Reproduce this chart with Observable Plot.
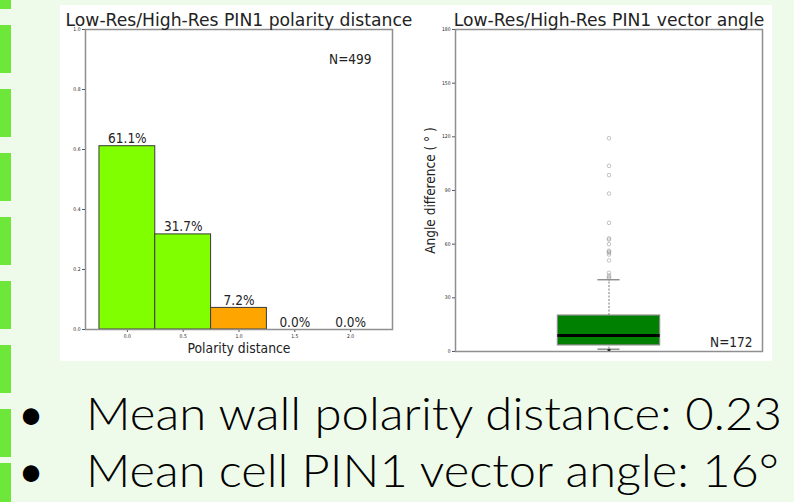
<!DOCTYPE html>
<html>
<head>
<meta charset="utf-8">
<script src="https://cdn.jsdelivr.net/npm/d3@7"></script>
<script src="https://cdn.jsdelivr.net/npm/@observablehq/plot@0.6"></script>
<style>
  html, body { margin: 0; padding: 0; }
  body { width: 794px; height: 502px; position: relative; overflow: hidden; background: #effbea; }
  #bar { position: absolute; left: 0; top: 0; width: 11px; height: 502px;
         background: repeating-linear-gradient(to bottom, #6ee73b 0 48px, transparent 48px 64px);
         background-position: 0 -39px; }
  #panel { position: absolute; left: 60px; top: 5px; width: 712px; height: 356px; background: #ffffff; }
  .chart { position: absolute; top: 5px; }
  .chart svg { overflow: visible; }
  #left { left: 60px; }
  #right { left: 420px; }
  #bullets { position: absolute; left: 0; top: 362px; }
</style>
</head>
<body>
<div id="bar"></div>
<div id="panel"></div>
<div id="left" class="chart"></div>
<div id="right" class="chart"></div>
<div id="bullets"></div>
<script>
// ---- Data: polarity distance histogram ----
const distBins = [0.0, 0.5, 1.0, 1.5, 2.0];
const distFractions = [0.611, 0.317, 0.072, 0.0, 0.0];
const distLabels = ["61.1%", "31.7%", "7.2%", "0.0%", "0.0%"];
const distGroups = ["near", "near", "far", "near", "near"];
const distTicksX = [0.0, 0.5, 1.0, 1.5, 2.0];
const distTicksY = [0.0, 0.2, 0.4, 0.6, 0.8, 1.0];
const distN = "N=499";

// ---- Data: vector angle box plot ----
const angleStatNames = ["whiskerLow", "q1", "median", "q3", "whiskerHigh"];
const angleStatValues = [1.3, 3.4, 9.0, 20.1, 40.1];
const angleOutliers = [119.2, 103.8, 98.6, 88.3, 71.9, 63.2, 62.6, 60.0, 56.3, 55.8, 55.2, 54.2, 50.9, 44.0, 42.5, 41.5, 40.7];
const angleLowMarks = [0.5];
const angleTicksY = [0, 30, 60, 90, 120, 150, 180];
const angleN = "N=172";

// ---- Bullet text ----
const bulletLines = ["Mean wall polarity distance: 0.23", "Mean cell PIN1 vector angle: 16°"];

const stat = Object.fromEntries(angleStatNames.map((k, i) => [k, angleStatValues[i]]));
const FONT = "DejaVu Sans Condensed, DejaVu Sans, sans-serif";
const TITLE_FONT = "DejaVu Sans, sans-serif";
const FRAME = "#8f8f8f";

// Left chart
const distData = distBins.map((b, i) => ({bin: b, frac: distFractions[i], label: distLabels[i], group: distGroups[i]}));
const halfW = 0.25;
const left = Plot.plot({
  width: 360, height: 356,
  marginLeft: 25, marginTop: 24, marginRight: 28, marginBottom: 32,
  style: {background: "transparent", fontFamily: FONT, color: "#222", overflow: "visible"},
  x: {domain: [-0.375, 2.375]},
  y: {domain: [0, 1]},
  color: {domain: ["near", "far"], range: ["#7fff00", "#ffa500"]},
  marks: [
    Plot.rect(distData, {x1: d => d.bin - halfW, x2: d => d.bin + halfW, y1: 0, y2: "frac", fill: "group", stroke: "#3a3a3a", strokeWidth: 1}),
    Plot.text(distData, {x: "bin", y: "frac", text: "label", dy: -3, lineAnchor: "bottom", fontSize: 13.5, fill: "#222"}),
    Plot.axisX({ticks: distTicksX, tickFormat: d3.format(".1f"), tickSize: 3, tickPadding: 2, fontSize: 5, label: null, stroke: "#555"}),
    Plot.axisY({ticks: distTicksY, tickFormat: d3.format(".1f"), tickSize: 3, tickPadding: 2, fontSize: 5, label: null, stroke: "#555"}),
    Plot.frame({stroke: FRAME, strokeWidth: 1.5}),
    Plot.text(["Low-Res/High-Res PIN1 polarity distance"], {frameAnchor: "top", lineAnchor: "bottom", dy: -4, fontSize: 17.2, fontFamily: TITLE_FONT, fill: "#222"}),
    Plot.text([distN], {frameAnchor: "top-right", textAnchor: "end", lineAnchor: "bottom", dx: -21, dy: 34, fontSize: 13.5, fill: "#222"}),
    Plot.text(["Polarity distance"], {frameAnchor: "bottom", lineAnchor: "bottom", dy: 23, fontSize: 13.8, fill: "#222"})
  ]
});
document.getElementById("left").appendChild(left);

// Right chart
const boxHalf = 0.1665, capHalf = 0.036, cx = 0.5;
const right = Plot.plot({
  width: 352, height: 356,
  marginLeft: 35, marginTop: 24, marginRight: 10, marginBottom: 10,
  style: {background: "transparent", fontFamily: FONT, color: "#222", overflow: "visible"},
  x: {domain: [0, 1], axis: null},
  y: {domain: [0, 180]},
  marks: [
    Plot.ruleX([[stat.q3, stat.whiskerHigh], [stat.whiskerLow, stat.q1]], {x: () => cx, y1: d => d[0], y2: d => d[1], stroke: "#777", strokeWidth: 1, strokeDasharray: "2,1.5"}),
    Plot.ruleY([stat.whiskerLow, stat.whiskerHigh], {y: d => d, x1: () => cx - capHalf, x2: () => cx + capHalf, stroke: "#777", strokeWidth: 1.2}),
    Plot.rect([stat], {x1: () => cx - boxHalf, x2: () => cx + boxHalf, y1: "q1", y2: "q3", fill: "#008000", stroke: "#8c8c8c", strokeWidth: 1.2}),
    Plot.ruleY([stat.median], {y: d => d, x1: () => cx - boxHalf, x2: () => cx + boxHalf, stroke: "#000", strokeWidth: 3}),
    Plot.dot(angleOutliers, {x: () => cx, y: d => d, r: 1.8, stroke: "#999", strokeOpacity: 0.65, strokeWidth: 0.9, fill: "none"}),
    Plot.dot(angleLowMarks, {x: () => cx, y: d => d, r: 1.6, symbol: "square", fill: "#111"}),
    Plot.axisY({ticks: angleTicksY, tickSize: 3, tickPadding: 2, fontSize: 5, label: null, stroke: "#555"}),
    Plot.frame({stroke: FRAME, strokeWidth: 1.5}),
    Plot.text(["Low-Res/High-Res PIN1 vector angle"], {frameAnchor: "top", lineAnchor: "bottom", dy: -4, fontSize: 17.2, fontFamily: TITLE_FONT, fill: "#222"}),
    Plot.text(["Angle difference ( ° )"], {frameAnchor: "left", rotate: -90, textAnchor: "middle", lineAnchor: "middle", dx: -25, fontSize: 13.5, fill: "#222"}),
    Plot.text([angleN], {frameAnchor: "bottom-right", textAnchor: "end", lineAnchor: "bottom", dx: -10, dy: -5, fontSize: 13.5, fill: "#222"})
  ]
});
document.getElementById("right").appendChild(right);

// Bullets
const ns = "http://www.w3.org/2000/svg";
const bsvg = document.createElementNS(ns, "svg");
bsvg.setAttribute("width", 794); bsvg.setAttribute("height", 140);
const baselines = [68, 125];
const lineEnds = [782, 779];
bulletLines.forEach((t, i) => {
  const dot = document.createElementNS(ns, "text");
  dot.setAttribute("x", 31); dot.setAttribute("y", baselines[i]);
  dot.setAttribute("text-anchor", "middle");
  dot.setAttribute("font-family", "Lato, sans-serif");
  dot.setAttribute("font-size", 44);
  dot.setAttribute("fill", "#000");
  dot.textContent = "•";
  bsvg.appendChild(dot);
  const tx = document.createElementNS(ns, "text");
  tx.setAttribute("x", 86); tx.setAttribute("y", baselines[i]);
  tx.setAttribute("font-family", "Lato, sans-serif");
  tx.setAttribute("font-weight", 300);
  tx.setAttribute("font-size", 46);
  tx.setAttribute("fill", "#000");
  tx.setAttribute("textLength", lineEnds[i] - 86);
  tx.setAttribute("lengthAdjust", "spacingAndGlyphs");
  tx.textContent = t;
  bsvg.appendChild(tx);
});
document.getElementById("bullets").appendChild(bsvg);
</script>
</body>
</html>
